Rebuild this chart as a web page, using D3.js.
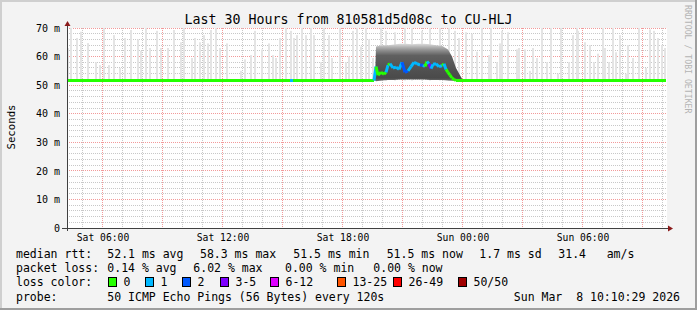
<!DOCTYPE html>
<html>
<head>
<meta charset="utf-8">
<script src="https://cdn.jsdelivr.net/npm/d3@7"></script>
<style>
body { margin: 0; background: #f3f3f3; }
svg text { font-family: "DejaVu Sans Mono", monospace; }
</style>
</head>
<body>
<svg id="chart" width="697" height="310"></svg>
<script>
// time window: 30 hours ending Sun 10:13
const startTime = new Date(2026, 2, 7, 4, 13, 30);
const spanHours = 30;

// max ping (light smoke spikes), minutes after start / ms
const spikeMin = [3, 12, 30, 42, 63, 87, 99, 111, 126, 141, 159, 174, 192, 213, 222, 237, 249, 270, 282, 303,
  321, 342, 351, 375, 384, 399, 411, 423, 432, 447, 459, 480, 522, 534, 552, 564, 585, 606,
  618, 627, 639, 657, 672, 681, 690, 705, 717, 732, 741, 762, 771, 786, 795, 819, 837, 846, 858, 870, 882, 897, 906, 918,
  942, 957, 984, 1014, 1035, 1065, 1089, 1119, 1146, 1164, 1176, 1197, 1215,
  1230, 1245, 1266, 1272, 1290, 1299, 1305, 1323, 1350, 1356, 1374, 1389, 1398, 1410, 1425, 1440, 1452, 1473, 1482, 1506, 1518, 1530,
  1533, 1554, 1569, 1581, 1593, 1608, 1614, 1626, 1638, 1647, 1659, 1677, 1683, 1698, 1716, 1737, 1749, 1761, 1773, 1785, 1794];
const spikeTop = [63, 70, 66.5, 68.7, 64.7, 58, 57, 70, 57, 67.5, 56, 66.5, 69.3, 66, 62, 70, 63, 69, 63, 63,
  69.3, 65, 70, 59.5, 66.5, 65, 67.5, 64.6, 69.3, 70, 63, 64.6, 55, 59, 60.5, 69, 62.5, 64.6,
  60.5, 59.5, 66.5, 70, 69, 66.5, 67.5, 70, 67.5, 70, 67.5, 58, 70, 67.5, 59.5, 70, 58, 60, 69, 70, 63.5, 70, 66, 59.5,
  70, 69, 68.5, 70, 70, 69, 70, 70, 70, 69, 66.5, 68.5, 68,
  61.7, 70, 60.5, 70, 58, 64.6, 69, 68.5, 62.5, 63, 62.5, 55, 63, 59.5, 70, 58, 70, 54, 70, 58, 67.5, 70,
  69, 65, 64, 58, 61, 70, 63, 58, 70, 61.5, 67.5, 54, 64, 59.5, 70, 56, 69.5, 69, 66.5, 64, 63];

// median rtt (ms) and lost pings out of 50
const medMin = [0, 669, 672, 678, 681, 921,
  927, 933, 942, 951, 957, 963, 969, 978, 987, 996, 1005, 1014, 1023, 1032, 1041, 1050, 1059, 1068, 1074,
  1080, 1086, 1092, 1098, 1107, 1116, 1125, 1131, 1137, 1143, 1149, 1155, 1161, 1167, 1797];
const medVal = [51.6, 51.6, 51.6, 51.6, 51.6, 51.6,
  56.5, 53.5, 54.5, 53.8, 54.5, 57, 57.5, 56, 56.3, 55.5, 58, 54.5, 55, 56.5, 58, 57.5, 57, 57, 56.5,
  58.3, 57.5, 55.8, 57.3, 57.5, 56.5, 56.8, 57.5, 55.5, 54.5, 53.5, 52.5, 52, 51.6, 51.6];
const medLoss = [0, 0, 1, 1, 0, 0,
  1, 0, 0, 0, 0, 1, 0, 1, 1, 1, 1, 2, 2, 1, 1, 1, 1, 2, 1,
  0, 1, 4, 1, 1, 1, 1, 0, 1, 0, 0, 0, 0, 0, 0];

// dense smoke during the evening episode
const smokeMin = [909, 924, 927, 945, 963, 981, 999, 1017, 1035, 1053, 1071, 1089, 1107, 1125, 1143, 1155, 1167, 1179, 1188];
const smokeTop = [51.6, 52, 63.5, 64, 64, 64.2, 64.5, 64.5, 64.3, 64.5, 64.5, 64.3, 64, 63.8, 62.5, 60, 56, 53.5, 51.6];
const smokeLow = [51.6, 51.6, 51.4, 51.6, 51.8, 51.8, 52, 52, 52, 52, 52, 51.8, 51.8, 51.8, 51.6, 51.5, 51.5, 51.5, 51.6];

const lossLabels = ["0", "1", "2", "3-5", "6-12", "13-25", "26-49", "50/50"];
const lossColors = ["#26ff00", "#00b8ff", "#0059ff", "#7e00ff", "#dd00ff", "#ff5500", "#ff0000", "#a10000"];

const rttStats = ["52.1 ms avg", "58.3 ms max", "51.5 ms min", "51.5 ms now", "1.7 ms sd", "31.4", "am/s"];
const lossStats = ["0.14 % avg", "6.02 % max", "0.00 % min", "0.00 % now"];

const W = 697, H = 310;
const pLeft = 67, pRight = 667, pTop = 28, pBottom = 228;

const svg = d3.select("#chart");
const nb = s => s.replace(/ /g, "\u00a0");

// background + 3d border like rrdtool
svg.append("rect").attr("width", W).attr("height", H).attr("fill", "#f3f3f3");
svg.append("path").attr("d", `M0,0H${W}V2H2V${H}H0Z`).attr("fill", "#cfcfcf");
svg.append("path").attr("d", `M${W},${H}H0V${H-2}H${W-2}V0H${W}Z`).attr("fill", "#9e9e9e");

const endTime = new Date(+startTime + spanHours * 3600e3);
const x = d3.scaleTime().domain([startTime, endTime]).range([pLeft, pRight]);
const y = d3.scaleLinear().domain([0, 70]).range([pBottom, pTop]);
const tm = m => new Date(+startTime + m * 60e3);
const crisp = v => Math.floor(v) + 0.5;

// canvas
svg.append("rect").attr("x", pLeft).attr("y", pTop).attr("width", pRight - pLeft).attr("height", pBottom - pTop).attr("fill", "#fff");

// grid
const grid = svg.append("g").attr("stroke-width", 1).attr("stroke-dasharray", "1,1");
grid.selectAll(".hmin").data(d3.range(2, 71, 2).filter(d => d % 10)).enter().append("line")
  .attr("x1", pLeft).attr("x2", pRight).attr("y1", d => crisp(y(d))).attr("y2", d => crisp(y(d))).attr("stroke", "#c8c8c8");
grid.selectAll(".vmin").data(x.ticks(d3.timeHour.every(1)).filter(d => d.getHours() % 3)).enter().append("line")
  .attr("y1", pTop).attr("y2", pBottom).attr("x1", d => crisp(x(d))).attr("x2", d => crisp(x(d))).attr("stroke", "#c8c8c8");
grid.selectAll(".hmaj").data(d3.range(10, 71, 10)).enter().append("line")
  .attr("x1", pLeft).attr("x2", pRight).attr("y1", d => crisp(y(d))).attr("y2", d => crisp(y(d))).attr("stroke", "#f29a9a");
grid.selectAll(".vmaj").data(x.ticks(d3.timeHour.every(3))).enter().append("line")
  .attr("y1", pTop).attr("y2", pBottom + 2).attr("x1", d => crisp(x(d))).attr("x2", d => crisp(x(d))).attr("stroke", "#f29a9a");

// spikes
const base = 51.6;
svg.append("g").selectAll("rect").data(spikeMin).enter().append("rect")
  .attr("x", d => Math.round(x(tm(d))) - 1)
  .attr("width", 2)
  .attr("y", (d, i) => y(spikeTop[i]))
  .attr("height", (d, i) => y(base) - y(spikeTop[i]))
  .attr("fill", "#e4e4e4");

// smoke
const defs = svg.append("defs");
const grad = defs.append("linearGradient").attr("id", "smk").attr("gradientUnits", "userSpaceOnUse")
  .attr("x1", 0).attr("x2", 0).attr("y1", y(65)).attr("y2", y(51.4));
[[0, "#eeeeee"], [0.12, "#b4b4b4"], [0.22, "#8a8a8a"], [0.34, "#606060"], [0.7, "#515151"], [0.92, "#4a4a4a"], [1, "#707070"]]
  .forEach(s => grad.append("stop").attr("offset", s[0]).attr("stop-color", s[1]));
const smoke = smokeMin.map((m, i) => ({ t: tm(m), hi: smokeTop[i], lo: smokeLow[i] }));
svg.append("path").datum(smoke)
  .attr("d", d3.area().x(d => x(d.t)).y0(d => y(d.lo)).y1(d => y(d.hi)))
  .attr("fill", "url(#smk)");

// median line, coloured by loss
const lossColor = d3.scaleThreshold().domain([1, 2, 3, 6, 13, 26, 50]).range(lossColors);
const med = medMin.map((m, i) => ({ t: tm(m), v: medVal[i], l: medLoss[i] }));
svg.append("g").selectAll("line").data(med.slice(1)).enter().append("line")
  .attr("x1", (d, i) => x(med[i].t)).attr("y1", (d, i) => y(med[i].v))
  .attr("x2", d => x(d.t)).attr("y2", d => y(d.v))
  .attr("stroke", d => lossColor(d.l)).attr("stroke-width", 3).attr("stroke-linecap", "butt");

// axes
const xAxis = svg.append("g").attr("transform", `translate(0,${pBottom})`)
  .call(d3.axisBottom(x).ticks(d3.timeHour.every(6)).tickFormat(d3.timeFormat("%a %H:%M")).tickSize(0).tickPadding(6));
xAxis.select(".domain").remove();
xAxis.selectAll("text").attr("font-size", "9.7px").attr("fill", "#000").attr("font-family", "DejaVu Sans Mono");

const yAxis = svg.append("g").attr("transform", `translate(${pLeft},0)`)
  .call(d3.axisLeft(y).tickValues(d3.range(0, 71, 10)).tickFormat(d => nb(d ? d + " m" : "0")).tickSize(0).tickPadding(7));
yAxis.select(".domain").remove();
yAxis.selectAll("text").attr("font-size", "10px").attr("fill", "#000").attr("font-family", "DejaVu Sans Mono");

// axis lines + arrows
svg.append("line").attr("x1", pLeft - 5).attr("x2", pRight + 2).attr("y1", pBottom + 0.5).attr("y2", pBottom + 0.5).attr("stroke", "#404040");
svg.append("line").attr("x1", pLeft + 0.5).attr("x2", pLeft + 0.5).attr("y1", pBottom + 3).attr("y2", pTop - 5).attr("stroke", "#404040");
svg.append("path").attr("d", `M${pRight + 1},${pBottom - 2.5}L${pRight + 6},${pBottom + 0.5}L${pRight + 1},${pBottom + 3.5}Z`).attr("fill", "#8b1a1a");
svg.append("path").attr("d", `M${pLeft - 2.5},${pTop - 2}L${pLeft + 0.5},${pTop - 7}L${pLeft + 3.5},${pTop - 2}Z`).attr("fill", "#8b1a1a");

// titles
svg.append("text").attr("x", 348.5).attr("y", 24).attr("text-anchor", "middle").attr("font-size", "13.3px")
  .text("Last 30 Hours from 810581d5d08c to CU-HLJ");
svg.append("text").attr("transform", "translate(15,127) rotate(-90)").attr("text-anchor", "middle").attr("font-size", "10.7px")
  .text("Seconds");
svg.append("text").attr("transform", "translate(685,5) rotate(90)").attr("font-size", "8.2px").attr("fill", "#b4b4b4")
  .text("RRDTOOL / TOBI OETIKER");

// legend
const lg = svg.append("g").attr("font-size", "11.5px").attr("fill", "#000");
lg.append("text").attr("x", 16).attr("y", 257.5).text("median rtt:");
[107.3, 200, 293.3, 386.7, 479.3, 558.3, 606.7].forEach((px, i) =>
  lg.append("text").attr("x", px).attr("y", 257.5).text(nb(rttStats[i])));
lg.append("text").attr("x", 16).attr("y", 272).text("packet loss:");
[107.3, 193.3, 285, 373.3].forEach((px, i) =>
  lg.append("text").attr("x", px).attr("y", 272).text(nb(lossStats[i])));
lg.append("text").attr("x", 16).attr("y", 286.3).text("loss color:");
const boxX = [108.5, 145.5, 182.5, 220.5, 270.5, 337.5, 393.5, 458.5];
lossLabels.forEach((lab, i) => {
  lg.append("rect").attr("x", boxX[i]).attr("y", 277.5).attr("width", 8).attr("height", 9)
    .attr("fill", lossColors[i]).attr("stroke", "#000");
  lg.append("text").attr("x", boxX[i] + 15).attr("y", 286.3).text(lab);
});
lg.append("text").attr("x", 16).attr("y", 300.5).text("probe:");
lg.append("text").attr("x", 107.3).attr("y", 300.5).text("50 ICMP Echo Pings (56 Bytes) every 120s");
lg.append("text").attr("x", 680).attr("y", 300.5).attr("text-anchor", "end").text(nb("Sun Mar  8 10:10:29 2026"));
</script>
</body>
</html>
